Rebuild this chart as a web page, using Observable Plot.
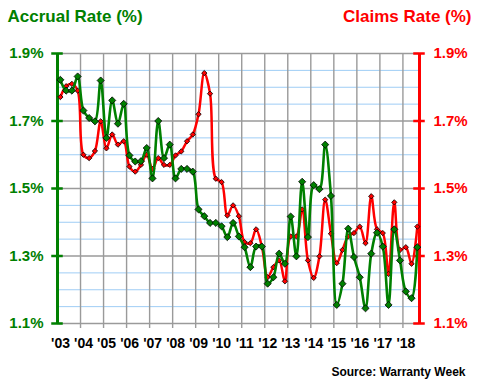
<!DOCTYPE html>
<html><head><meta charset="utf-8">
<script src="https://cdn.jsdelivr.net/npm/d3@7"></script>
<script src="https://cdn.jsdelivr.net/npm/@observablehq/plot@0.6"></script>
<style>body{margin:0;background:#fff}</style>
</head><body><div id="chart"></div>
<script>
// ---- data ----
const years = [2003,2004,2005,2006,2007,2008,2009,2010,2011,2012,2013,2014,2015,2016,2017,2018];
const yearLabels = ["'03","'04","'05","'06","'07","'08","'09","'10","'11","'12","'13","'14","'15","'16","'17","'18"];
const yTicks = [1.1,1.3,1.5,1.7,1.9];
const yMinor = [1.15,1.2,1.25,1.35,1.4,1.45,1.55,1.6,1.65,1.75,1.8,1.85];
// quarterly, 2003 Q1 .. 2018 Q3
const accrual = [1.822,1.790,1.790,1.832,1.731,1.709,1.699,1.820,1.650,1.761,1.692,1.751,
  1.598,1.580,1.581,1.620,1.530,1.700,1.590,1.630,1.530,1.558,1.558,1.550,
  1.438,1.418,1.398,1.398,1.388,1.356,1.398,1.358,1.326,1.267,1.328,1.328,
  1.218,1.237,1.307,1.277,1.417,1.299,1.520,1.356,1.510,1.498,1.630,1.478,
  1.155,1.218,1.381,1.297,1.237,1.145,1.307,1.369,1.328,1.155,1.379,1.287,
  1.195,1.175,1.326];
const claims = [1.771,1.803,1.810,1.790,1.600,1.590,1.611,1.699,1.619,1.660,1.630,1.640,
  1.565,1.550,1.570,1.600,1.558,1.590,1.570,1.570,1.598,1.610,1.640,1.660,
  1.720,1.842,1.781,1.529,1.519,1.420,1.450,1.418,1.341,1.338,1.379,1.328,
  1.237,1.267,1.287,1.225,1.358,1.358,1.438,1.287,1.235,1.299,1.467,1.366,
  1.279,1.318,1.358,1.368,1.387,1.338,1.477,1.379,1.368,1.247,1.459,1.318,
  1.326,1.277,1.387];
const quarterX = accrual.map((_, i) => years[0] + (i + 0.5) / 4);
const accData = accrual.map((v, i) => ({x: quarterX[i], y: v}));
const clmData = claims.map((v, i) => ({x: quarterX[i], y: v}));

const GREEN = "#008000", RED = "#ff0000", GRAY = "#9a9a9a", BLUE = "#9fcdf5";
const xMax = 2018.72;
const FONT = "Arial, 'Liberation Sans', sans-serif";

const chart = Plot.plot({
  width: 480, height: 380,
  marginLeft: 57, marginRight: 61, marginTop: 53, marginBottom: 57,
  x: {domain: [years[0], xMax], axis: null},
  y: {domain: [1.1, 1.9], axis: null},
  style: {fontFamily: FONT, background: "#fff", overflow: "visible"},
  marks: [
    Plot.ruleY(yMinor, {stroke: BLUE, strokeWidth: 1}),
    Plot.ruleX(years.slice(1), {y1: 1.085, y2: 1.9, stroke: GRAY, strokeWidth: 1.4}),
    Plot.ruleY(yTicks, {stroke: GRAY, strokeWidth: 1.4}),
    // left axis
    Plot.ruleX([years[0]], {y1: 1.1, y2: 1.9, stroke: GREEN, strokeWidth: 3}),
    Plot.ruleY(yTicks, {x1: years[0] - 0.25, x2: years[0] + 0.25, stroke: GREEN, strokeWidth: 2.5}),
    Plot.text(yTicks, {x: years[0], y: d => d, text: d => d.toFixed(1) + "%", dx: -14, textAnchor: "end", lineAnchor: "middle", fill: GREEN, fontWeight: "bold", fontSize: 15}),
    // right axis
    Plot.ruleX([xMax], {y1: 1.1, y2: 1.9, stroke: RED, strokeWidth: 3}),
    Plot.ruleY(yTicks, {x1: xMax - 0.25, x2: xMax + 0.25, stroke: RED, strokeWidth: 2.5}),
    Plot.text(yTicks, {x: xMax, y: d => d, text: d => d.toFixed(1) + "%", dx: 14, textAnchor: "start", lineAnchor: "middle", fill: RED, fontWeight: "bold", fontSize: 15}),
    // x labels
    Plot.text(years, {x: d => d, y: 1.1, text: (d, i) => yearLabels[i], dx: 3, dy: 24, lineAnchor: "bottom", fill: "#000", fontWeight: "bold", fontSize: 14}),
    // series
    Plot.line(clmData, {x: "x", y: "y", stroke: RED, strokeWidth: 2.5, curve: "catmull-rom"}),
    Plot.dot(clmData, {x: "x", y: "y", symbol: "diamond2", r: 2.4, fill: RED, stroke: "#000", strokeWidth: 0.8}),
    Plot.line(accData, {x: "x", y: "y", stroke: GREEN, strokeWidth: 2.6, curve: "catmull-rom"}),
    Plot.dot(accData, {x: "x", y: "y", symbol: "diamond2", r: 3.2, fill: GREEN, stroke: "#000", strokeWidth: 0.8}),
    // titles
    Plot.text(["Accrual Rate (%)"], {frameAnchor: "top-left", dx: -50, dy: -31.5, lineAnchor: "bottom", textAnchor: "start", fill: GREEN, fontWeight: "bold", fontSize: 17}),
    Plot.text(["Claims Rate (%)"], {frameAnchor: "top-right", dx: 52, dy: -31.5, lineAnchor: "bottom", textAnchor: "end", fill: RED, fontWeight: "bold", fontSize: 17}),
    Plot.text(["Source: Warranty Week"], {frameAnchor: "bottom-right", dx: 46, dy: 52, lineAnchor: "bottom", textAnchor: "end", fill: "#000", fontWeight: "bold", fontSize: 12})
  ]
});
document.getElementById("chart").appendChild(chart);
</script>
</body></html>
